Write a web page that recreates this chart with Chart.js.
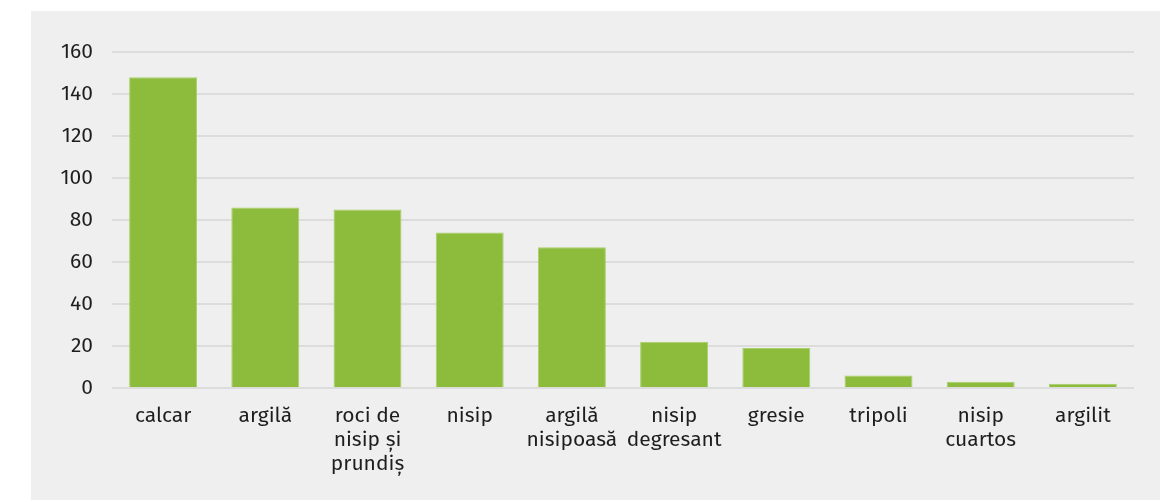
<!DOCTYPE html>
<html>
<head>
<meta charset="utf-8">
<script src="https://cdn.jsdelivr.net/npm/chart.js@4"></script>
<style>
  body { margin: 0; background: #fff; }
  #panel { position: absolute; left: 31px; top: 11px; width: 1129px; height: 489px; background: #efefef; }
</style>
</head>
<body>
<div id="panel"><canvas id="graficRoci" width="1129" height="489"></canvas></div>
<script>
// categorii de roci si numarul de zacaminte
const categorii = [
  'calcar', 'argilă', ['roci de', 'nisip și', 'prundiș'], 'nisip', ['argilă', 'nisipoasă'],
  ['nisip', 'degresant'], 'gresie', 'tripoli', ['nisip', 'cuartos'], 'argilit'
];
const valori = [148, 86, 85, 74, 67, 22, 19, 6, 3, 2];
const ticksY = [0, 20, 40, 60, 80, 100, 120, 140, 160];

const font = { family: 'Fira Sans, "Open Sans", "Noto Sans", sans-serif', size: 21, lineHeight: 1.143 };

new Chart(document.getElementById('graficRoci'), {
  type: 'bar',
  data: {
    labels: categorii,
    datasets: [{
      data: valori,
      backgroundColor: '#8dbb3b',
      borderColor: '#a9cf6a',
      borderWidth: 1,
      categoryPercentage: 1,
      barPercentage: 0.665
    }]
  },
  options: {
    responsive: false,
    animation: false,
    layout: { padding: { top: 41, right: 26, left: 0, bottom: 0 } },
    plugins: { legend: { display: false }, tooltip: { enabled: false } },
    scales: {
      x: {
        grid: { display: false },
        border: { display: false },
        ticks: { color: '#1e1e1e', font: font, padding: 8, maxRotation: 0, autoSkip: false },
        afterFit: s => { s.height = 112; }
      },
      y: {
        min: 0,
        max: 160,
        afterBuildTicks: s => { s.ticks = ticksY.map(v => ({ value: v })); },
        grid: { color: '#dcdcdc', lineWidth: 2, drawTicks: false },
        border: { display: false },
        ticks: { color: '#1e1e1e', font: font, padding: 19 },
        afterFit: s => { s.width = 81; }
      }
    }
  }
});
</script>
</body>
</html>
